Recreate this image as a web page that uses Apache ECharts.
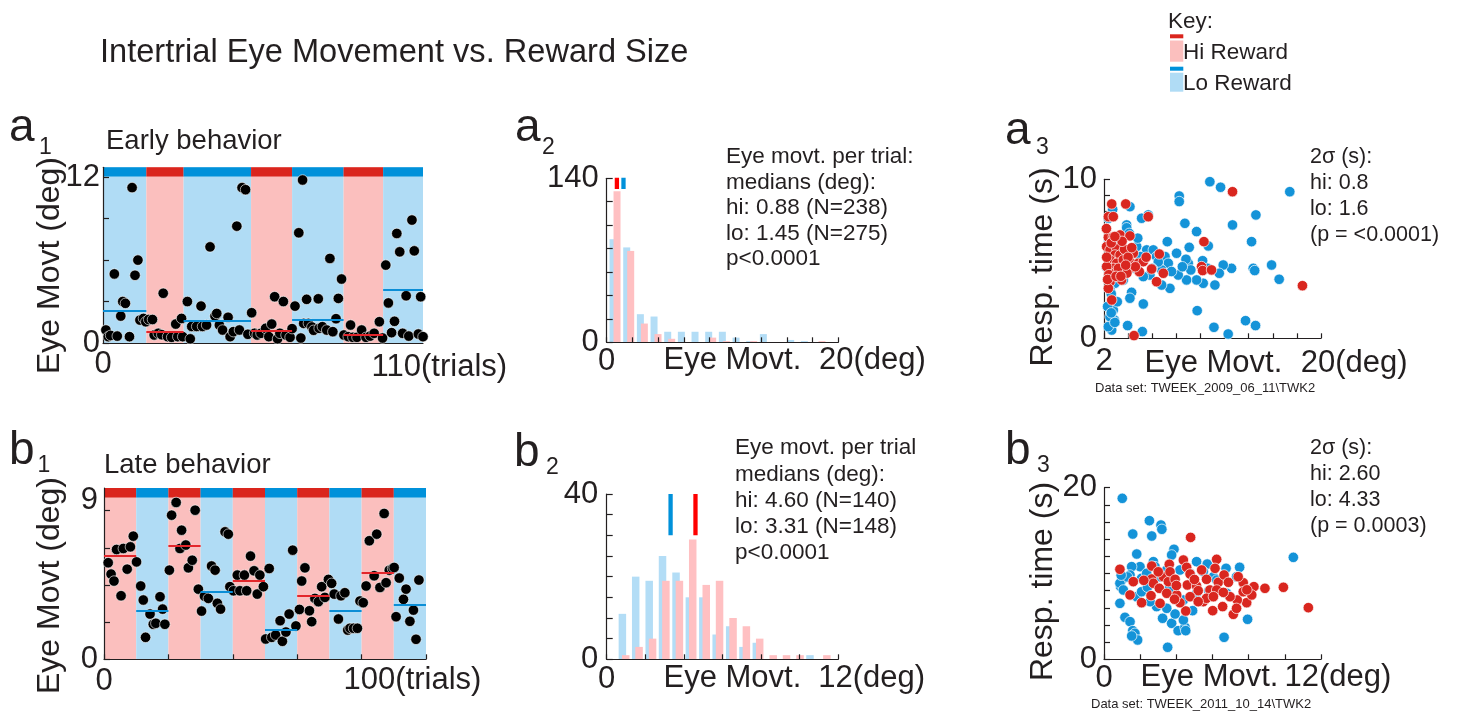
<!DOCTYPE html>
<html>
<head>
<meta charset="utf-8">
<title>Intertrial Eye Movement vs. Reward Size</title>
<script src="https://cdn.jsdelivr.net/npm/echarts@6/dist/echarts.min.js"></script>
<style>
  html, body { margin: 0; padding: 0; background: #ffffff; }
  #chart { width: 1467px; height: 714px; }
</style>
</head>
<body>
<div id="chart"></div>
<script>
// ---------------- data ----------------
// a1: early behaviour, per-trial eye movement (trial, deg)
const a1BlockEdges = [0, 14.9, 27.7, 50.9, 65.0, 82.7, 96.3, 110];
const a1BlockReward = ['lo', 'hi', 'lo', 'hi', 'lo', 'hi', 'lo'];
const a1BlockMedians = [2.34, 0.84, 1.64, 0.89, 1.71, 0.60, 3.88];
const a1Trials = [
  [1.0,0.94],[1.8,0.46],[2.6,0.55],[3.9,5.0],[4.9,0.5],[6.1,1.95],[6.8,3.0],[7.7,2.87],[9.1,0.46],[10.0,11.25],[11.0,4.9],[12.0,6.0],[12.7,1.66],[13.9,1.78],[14.7,1.54],
  [15.7,1.7],[17.0,1.7],[17.6,0.58],[19.0,0.70],[20.2,0.6],[20.7,3.6],[22.2,0.46],[23.6,0.41],[25.0,1.37],[25.7,0.46],[27.0,1.78],[27.4,0.46],
  [29.0,3.0],[30.0,0.3],[30.5,1.2],[32.2,1.2],[33.7,2.67],[34.2,1.2],[35.6,1.3],[36.8,6.96],[38.5,1.95],[39.1,2.14],[40.0,1.3],[41.1,0.94],[43.0,1.86],[43.7,0.46],[44.8,0.82],[46.0,8.46],[46.9,0.94],[47.8,11.25],[49.0,11.1],[49.8,0.63],
  [51.1,2.19],[52.1,0.70],[53.0,0.58],[54.3,0.70],[55.9,1.06],[57.0,0.46],[58.0,1.37],[59.0,3.35],[60.0,0.3],[60.8,0.70],[62.0,3.0],[62.9,0.58],[64.3,0.41],
  [65.0,1.04],[66.0,2.67],[67.3,7.98],[68.0,0.36],[68.6,11.8],[69.0,1.42],[70.0,3.16],[70.6,1.42],[71.8,1.16],[72.4,0.92],[74.0,3.2],[74.3,1.06],[75.4,1.18],[76.9,0.94],[78.0,6.12],[79.0,0.82],[80.1,1.76],[80.9,3.23],[82.0,4.63],
  [82.8,0.58],[84.3,0.46],[85.1,1.3],[85.9,0.41],[87.3,0.41],[88.9,0.94],[90.4,0.41],[91.8,0.5],[93.2,0.7],[95.0,1.54],[96.1,0.36],
  [97.2,5.64],[98.1,2.9],[99.2,0.75],[100.2,1.57],[101.0,7.93],[102.0,6.6],[103.0,0.7],[104.2,3.42],[105.1,0.5],[106.2,8.9],[107.0,6.67],[108.4,0.65],[109.2,3.35],[110.0,0.46]
];

// b1: late behaviour
const b1BlockEdges = [0, 10, 20, 30, 40, 50, 60, 70, 80, 90, 100];
const b1BlockReward = ['hi', 'lo', 'hi', 'lo', 'hi', 'lo', 'hi', 'lo', 'hi', 'lo'];
const b1BlockMedians = [6.27, 2.92, 6.85, 4.07, 4.76, 1.81, 3.83, 2.94, 5.22, 3.33];
const b1Trials = [
  [1.3,5.85],[2.2,5.16],[3.1,4.74],[3.9,6.65],[5.3,3.85],[6.0,6.71],[7.2,5.46],[8.2,6.81],[9.1,7.46],[10.1,5.9],
  [11.4,4.44],[12.2,3.59],[12.9,1.33],[14.3,2.74],[15.3,2.12],[16.1,2.18],[17.4,3.79],[18.2,3.04],[18.9,2.12],[20.3,5.4],
  [21.0,8.73],[22.4,9.5],[23.6,6.71],[24.1,7.82],[25.4,6.92],[26.2,5.54],[27.4,6.0],[28.3,9.03],[29.3,4.25],
  [30.3,2.92],[31.2,3.83],[32.4,3.69],[33.4,5.65],[34.5,5.4],[35.2,3.39],[36.2,3.04],[37.6,7.72],[38.6,7.58],[39.1,4.4],
  [40.2,4.15],[41.4,5.1],[42.2,4.15],[43.6,5.1],[44.3,4.15],[45.5,6.25],[46.6,5.36],[47.6,3.95],[48.4,5.1],[49.5,4.4],
  [50.2,1.23],[51.3,5.5],[52.1,1.33],[53.3,1.47],[54.7,2.34],[55.4,1.09],[56.5,1.65],[57.5,2.74],[58.6,6.61],[59.6,2.02],
  [60.7,3.02],[61.4,4.74],[62.4,5.54],[63.8,2.94],[64.5,2.28],[65.5,3.69],[66.6,3.49],[67.6,4.4],[68.6,3.75],[69.7,4.84],
  [70.7,4.6],[71.5,3.95],[72.8,2.44],[73.6,3.85],[74.8,4.03],[75.7,1.77],[76.4,1.88],[77.5,1.88],[78.7,1.88],[79.5,3.53],
  [80.5,3.43],[81.4,4.44],[82.4,7.18],[83.9,5.06],[84.7,7.58],[85.7,4.35],[87.0,8.83],[87.6,4.64],[88.6,5.4],[89.6,5.5],
  [90.1,5.56],[90.7,2.58],[91.7,4.92],[93.0,3.63],[93.8,4.25],[95.0,2.3],[96.1,2.98],[96.9,1.21],[97.8,4.8]
];

// a2: histogram of eye movement per trial (bin centre in deg, counts)
const a2BinCenters = [0.72, 1.90, 3.08, 4.26, 5.44, 6.62, 7.80, 8.98, 10.16, 11.34, 12.52, 13.70, 14.88, 16.06, 17.24, 18.42];
const a2LoCounts = [88, 81, 24, 22, 9, 9, 9, 9, 9, 4, 1, 7, 0, 2, 1, 0];
const a2HiCounts = [129, 78, 16, 7, 3, 0, 0, 4, 1, 0, 1, 0, 0, 0, 0, 1];
const a2Medians = { hi: 0.88, lo: 1.45 };

// b2
const b2BinCenters = [0.90, 1.59, 2.29, 2.98, 3.68, 4.37, 5.07, 5.76, 6.46, 7.15, 7.84, 8.54, 9.23, 9.93, 10.62, 11.32];
const b2LoCounts = [11, 20, 19, 25, 21, 15, 15, 6, 8, 3, 4, 0, 0, 0, 1, 0];
const b2HiCounts = [1, 3, 5, 19, 19, 29, 18, 19, 10, 8, 5, 1, 1, 1, 0, 1];
const b2Medians = { hi: 4.60, lo: 3.31 };

// a3: response time vs eye movement (deg, s)
const a3Lo = [
  [10.78,9.85],[11.67,9.50],[17.41,9.22],[8.24,8.95],[8.24,8.60],[14.60,7.76],[12.66,7.13],[8.71,7.23],[9.68,6.71],[14.24,6.08],
  [10.65,5.81],[7.25,6.08],[9.07,5.72],[8.02,5.35],[15.90,4.61],[14.38,4.40],[14.50,4.26],[12.58,4.40],[11.89,4.61],[16.53,3.71],
  [11.56,4.09],[11.20,3.35],[10.23,3.46],[10.18,4.88],[9.68,3.67],[8.85,3.67],[8.16,3.98],[8.99,4.72],[8.80,4.97],[7.47,3.14],
  [6.78,3.35],[5.26,2.16],[4.29,2.89],[4.15,2.52],[9.73,1.74],[11.12,0.69],[12.30,0.27],[13.74,1.11],[14.57,0.80],[3.96,0.80],
  [5.18,0.42],[2.77,1.78],[2.86,1.15],[2.64,0.52],[2.36,0.73],[2.50,1.36],[2.77,2.41],[3.88,7.13],[3.88,6.95],[5.67,7.76],
  [5.12,7.55],[4.15,8.28],[2.72,8.11],[2.36,7.55],[4.10,6.60],[4.71,5.77],[5.54,5.56],[6.09,5.56],[6.36,5.14],[7.06,5.14],
  [7.33,4.72],[6.78,4.30],[5.81,3.98],[5.26,3.88],[5.00,5.14],[4.57,4.40],[3.60,3.67],[3.19,4.09],[2.91,3.46],[2.50,3.04],
  [3.30,5.90],[2.40,6.20],[2.20,4.50],[2.60,2.80],[3.10,2.30],[2.30,2.00],[7.60,4.20],[9.20,4.30],[10.60,4.40],[6.50,4.80],
  [8.50,4.50],[2.90,1.00],[2.60,1.60],[4.80,6.30],[6.00,4.40]
];
const a3Hi = [
  [12.66,9.22],[2.64,8.45],[3.80,8.45],[2.36,7.65],[2.77,7.65],[5.67,7.65],[2.36,6.35],[2.77,6.39],[3.33,6.50],[4.15,6.44],
  [10.29,6.08],[6.59,5.30],[2.22,5.77],[2.50,5.56],[3.05,5.66],[2.91,5.24],[3.33,5.24],[4.43,5.35],[2.50,4.93],[3.05,4.72],
  [3.60,4.93],[4.15,4.82],[4.85,4.72],[5.26,4.82],[2.77,4.40],[2.22,4.51],[2.91,4.09],[4.15,4.40],[4.93,4.19],[5.95,4.36],
  [6.92,4.09],[6.36,3.56],[3.46,3.67],[2.50,3.56],[2.36,3.14],[2.64,2.41],[4.49,0.17],[10.09,4.51],[10.18,4.26],[10.92,4.30],
  [18.46,3.31],[2.22,5.10],[2.40,4.00],[3.70,5.60],[4.00,5.10],[3.20,4.40],[3.90,4.10],[4.60,4.50],[2.60,6.00],[3.50,6.10],
  [2.30,3.70],[3.00,3.90],[4.30,5.70],[5.50,5.10],[3.80,4.60],[2.90,6.40],[2.20,6.90],[3.40,3.90]
];

// b3
const b3Lo = [
  [1.01,18.76],[2.51,16.16],[3.15,15.65],[3.20,15.15],[1.59,14.60],[2.64,14.37],[10.47,11.88],[3.87,12.82],[3.74,12.16],[1.81,12.27],
  [5.12,11.38],[5.71,11.10],[6.75,10.60],[7.50,10.72],[7.94,4.66],[6.64,2.56],[3.52,1.40],[0.88,6.52],[1.16,4.89],[1.44,4.39],
  [1.59,3.34],[1.71,3.03],[1.86,2.25],[1.53,2.72],[3.24,4.78],[3.74,4.19],[4.10,3.34],[4.48,3.73],[4.52,3.34],[4.39,4.58],
  [3.93,5.28],[3.47,5.94],[2.91,6.14],[4.90,5.67],[6.78,7.69],[2.73,11.38],[2.82,10.80],[1.99,10.80],[1.53,10.80],[1.44,9.83],
  [0.98,9.24],[0.92,8.47],[0.88,8.86],[1.07,8.08],[1.81,7.30],[2.08,7.88],[2.08,9.44],[2.36,10.02],[3.10,9.63],[3.47,10.41],
  [4.20,10.41],[4.76,10.02],[5.49,10.22],[6.05,9.63],[6.23,9.24],[7.33,9.63],[5.12,7.69],[4.39,6.91],[2.55,6.72],[1.30,9.60],
  [2.40,8.40],[3.60,8.20],[5.80,8.00],[0.95,9.80]
];
const b3Hi = [
  [4.79,14.21],[6.23,11.65],[0.88,10.49],[11.30,6.02],[9.92,8.39],[8.90,8.27],[8.29,8.47],[7.70,8.93],[7.42,9.63],[7.89,6.60],
  [8.17,7.50],[7.15,5.24],[7.37,6.91],[6.56,6.14],[6.01,5.67],[4.52,5.63],[4.20,6.60],[2.08,6.60],[1.44,7.50],[1.62,9.05],
  [2.60,7.42],[2.64,10.87],[2.64,9.36],[2.73,8.86],[3.06,8.27],[3.28,9.63],[3.61,11.07],[3.56,9.05],[3.65,10.20],[3.93,9.32],
  [4.39,11.57],[4.57,10.72],[4.61,8.66],[4.76,9.94],[5.12,8.54],[5.21,8.00],[5.40,10.41],[5.67,9.32],[5.86,8.08],[6.14,10.60],
  [6.32,8.97],[6.23,8.08],[6.64,9.83],[6.88,8.97],[6.97,7.30],[7.33,5.94],[4.76,7.30],[4.02,7.50],[3.47,7.69],[3.10,6.52],
  [5.49,6.72],[5.67,7.11],[5.21,6.72],[6.05,7.30],[7.70,7.88],[2.20,9.20],[3.00,10.20],[4.00,8.60],[5.00,9.30],[6.60,7.80],
  [7.90,8.10],[3.90,7.00]
];

// axis ticks and tick labels
const a1YTicks = [0, 3, 6, 9, 12];
const a1YLabels = [0, 12];
const b1XTicks = [0, 20, 40, 60, 80, 100];
const b1YTicks = [0, 2.25, 4.5, 6.75, 9];
const b1YLabels = [0, 9];
const a2XTicks = [0, 2.222, 4.444, 6.667, 8.889, 11.111, 13.333, 15.556, 17.778, 20];
const a2YTicks = [0, 20, 40, 60, 80, 100, 120, 140];
const a2YLabels = [0, 140];
const b2XTicks = [0, 2, 4, 6, 8, 10, 12];
const b2YTicks = [0, 5, 10, 15, 20, 25, 30, 35, 40];
const b2YLabels = [0, 40];
const a3XTicks = [2, 4, 6, 8, 10, 12, 14, 16, 18, 20];
const a3YTicks = [0, 1, 2, 3, 4, 5, 6, 7, 8, 9, 10];
const a3YLabels = [0, 10];
const b3XTicks = [0, 2, 4, 6, 8, 10, 12];
const b3YTicks = [0, 2, 4, 6, 8, 10, 12, 14, 16, 18, 20];
const b3YLabels = [0, 20];

// ---------------- styling ----------------
const FONT = "'Liberation Sans', Arial, Helvetica, sans-serif";
const INK = '#231F20';
const BAND = { lo: '#B0DCF5', hi: '#FBBFBE' };
const STRIP = { lo: '#0091DA', hi: '#DA251D' };
const MED = { lo: '#0B8ED6', hi: '#E3262B' };
const BAR = { lo: '#B3DDF6', hi: '#FFC0C2' };
const MARK = { lo: '#0091DA', hi: '#FF0000' };
const DOT = { lo: '#1493D8', hi: '#D9261F' };

const chart = echarts.init(document.getElementById('chart'), null, { renderer: 'canvas' });

function xAxisCfg(grid, min, max, ticks, labels, margin, z) {
  return {
    type: 'value', gridIndex: grid, min: min, max: max, z: z,
    axisLine: { show: true, onZero: false, lineStyle: { color: INK, width: 1.2 } },
    axisTick: { show: ticks.length > 0, inside: true, length: 5, customValues: ticks, lineStyle: { color: INK, width: 1.2 } },
    axisLabel: { show: true, customValues: labels, margin: margin, fontSize: 31, fontFamily: FONT, color: INK },
    splitLine: { show: false }
  };
}
function yAxisCfg(grid, min, max, ticks, labels, margin, z, maxLabelUp) {
  const cfg = {
    type: 'value', gridIndex: grid, min: min, max: max, z: z,
    axisLine: { show: true, onZero: false, lineStyle: { color: INK, width: 1.2 } },
    axisTick: { show: true, inside: true, length: 6, customValues: ticks, lineStyle: { color: INK, width: 1.2 } },
    axisLabel: { show: true, customValues: labels, margin: margin, fontSize: 31, fontFamily: FONT, color: INK },
    splitLine: { show: false }
  };
  if (maxLabelUp) {
    // top tick label sits a little above its tick
    cfg.axisLabel.lineHeight = maxLabelUp;
    cfg.axisLabel.verticalAlignMaxLabel = 'bottom';
  }
  return cfg;
}

// reward blocks: light background band plus a darker strip at the top
function blockAreas(edges, kinds, top, stripFrom) {
  const out = [];
  kinds.forEach((k, i) => out.push([
    { xAxis: edges[i], yAxis: 0, itemStyle: { color: BAND[k], opacity: 1 } },
    { xAxis: edges[i + 1], yAxis: top }
  ]));
  kinds.forEach((k, i) => out.push([
    { xAxis: edges[i], yAxis: stripFrom, itemStyle: { color: STRIP[k], opacity: 1 } },
    { xAxis: edges[i + 1], yAxis: top }
  ]));
  return out;
}
function medianLines(edges, kinds, meds) {
  return kinds.map((k, i) => [
    { coord: [edges[i], meds[i]], lineStyle: { color: MED[k], width: 2, type: 'solid', opacity: 1 } },
    { coord: [edges[i + 1], meds[i]] }
  ]);
}
function timelineSeries(ax, edges, kinds, meds, trials, top, stripFrom) {
  return [
    { type: 'scatter', xAxisIndex: ax, yAxisIndex: ax, data: [], z: 0, silent: true,
      markArea: { silent: true, data: blockAreas(edges, kinds, top, stripFrom) } },
    { type: 'scatter', xAxisIndex: ax, yAxisIndex: ax, data: trials, z: 2, silent: true,
      symbol: 'circle', symbolSize: 10.5,
      itemStyle: { color: '#000000', borderColor: '#ffffff', borderWidth: 0.6, opacity: 1 } },
    { type: 'scatter', xAxisIndex: ax, yAxisIndex: ax, data: [], z: 3, silent: true,
      markLine: { silent: true, symbol: ['none', 'none'], label: { show: false },
        lineStyle: { width: 2, type: 'solid' }, data: medianLines(edges, kinds, meds) } }
  ];
}
function histSeries(ax, centers, lo, hi, meds, top, markLen, barW, gap) {
  const pairs = (vals) => centers.map((c, i) => [c, vals[i]]);
  const marker = (k) => ({
    type: 'line', xAxisIndex: ax, yAxisIndex: ax, z: 4, silent: true, symbol: 'none',
    lineStyle: { color: MARK[k], width: 4.3, cap: 'butt' },
    data: [[meds[k], top - markLen], [meds[k], top]]
  });
  return [
    { type: 'bar', xAxisIndex: ax, yAxisIndex: ax, data: pairs(lo), barWidth: barW, barGap: gap, z: 2, silent: true,
      itemStyle: { color: BAR.lo } },
    { type: 'bar', xAxisIndex: ax, yAxisIndex: ax, data: pairs(hi), barWidth: barW, barGap: gap, z: 2, silent: true,
      itemStyle: { color: BAR.hi } },
    marker('hi'), marker('lo')
  ];
}
function scatterSeries(ax, lo, hi) {
  const s = (data, k, z) => ({
    type: 'scatter', xAxisIndex: ax, yAxisIndex: ax, data: data, z: z, silent: true,
    symbol: 'circle', symbolSize: 10.5,
    itemStyle: { color: DOT[k], borderColor: '#ffffff', borderWidth: 0.7, opacity: 1 }
  });
  return [s(lo, 'lo', 2), s(hi, 'hi', 3)];
}

// text placed by its left edge and alphabetic baseline
function T(text, x, base, size, extra) {
  const el = {
    type: 'text', x: x, y: base - 0.3 * size, silent: true, z: 10,
    style: { text: text, fontSize: size, fontFamily: FONT, fill: INK,
      align: 'left', textAlign: 'left', verticalAlign: 'middle', textVerticalAlign: 'middle' }
  };
  if (extra) {
    if (extra.align) { el.style.align = extra.align; el.style.textAlign = extra.align; }
    if (extra.rotation !== undefined) { el.rotation = extra.rotation; }
  }
  return el;
}
// vertical axis title, centred on cy, baseline at bx
function VT(text, bx, cy, size) {
  const el = T(text, 0, 0, size, { align: 'center', rotation: Math.PI / 2 });
  el.x = bx - 0.3 * size;
  el.y = cy;
  return el;
}
function multiline(lines, x, base0, step, size) {
  return lines.map((s, i) => T(s, x, base0 + i * step, size));
}

const graphics = [
  T('Intertrial Eye Movement vs. Reward Size', 100, 62.7, 32.6),
  // key
  T('Key:', 1168, 28.3, 22.5),
  { type: 'rect', silent: true, shape: { x: 1170, y: 34.3, width: 13.3, height: 4 }, style: { fill: STRIP.hi } },
  { type: 'rect', silent: true, shape: { x: 1170, y: 40.5, width: 13.3, height: 21.2 }, style: { fill: BAND.hi } },
  T('Hi Reward', 1183, 59.3, 22.5),
  { type: 'rect', silent: true, shape: { x: 1170, y: 66.7, width: 13.3, height: 4 }, style: { fill: STRIP.lo } },
  { type: 'rect', silent: true, shape: { x: 1170, y: 72.7, width: 13.3, height: 19 }, style: { fill: BAND.lo } },
  T('Lo Reward', 1183, 90.7, 22.5),
  // panel letters
  T('a', 9, 141.7, 46), T('1', 39, 154.5, 23),
  T('a', 515, 141.7, 46), T('2', 542, 155, 23),
  T('a', 1005, 145, 46), T('3', 1036, 155, 23),
  T('b', 9, 465, 46), T('1', 37.5, 473, 23),
  T('b', 514, 466.7, 46), T('2', 546, 475, 23),
  T('b', 1005, 465, 46), T('3', 1037, 473, 23),
  // panel titles
  T('Early behavior', 106, 150, 27.5),
  T('Late behavior', 104, 474, 27.5),
  // axis titles
  VT('Eye Movt (deg)', 60, 265.5, 32),
  VT('Eye Movt (deg)', 60, 585.5, 32),
  VT('Resp. time (s)', 1053, 267, 32),
  VT('Resp. time (s)', 1053, 581.5, 32),
  T('110(trials)', 371.6, 377, 31),
  T('100(trials)', 343.6, 690, 31),
  T('Eye Movt.', 663.5, 370, 31), T('20(deg)', 819, 370, 31),
  T('Eye Movt.', 663.5, 688, 31), T('12(deg)', 818.3, 688, 31),
  T('Eye Movt.', 1144.5, 373, 31), T('20(deg)', 1300.7, 373, 31),
  T('Eye Movt.', 1140.6, 686.7, 31), T('12(deg)', 1284.5, 686.7, 31),
  // data set captions
  T('Data set: TWEEK_2009_06_11\\TWK2', 1095, 392.7, 13),
  T('Data set: TWEEK_2011_10_14\\TWK2', 1091, 708.3, 13)
].concat(
  multiline(['Eye movt. per trial:', 'medians (deg):', 'hi: 0.88 (N=238)', 'lo: 1.45 (N=275)', 'p<0.0001'], 726, 163.5, 25.6, 22.5),
  multiline(['Eye movt. per trial', 'medians (deg):', 'hi: 4.60 (N=140)', 'lo: 3.31 (N=148)', 'p<0.0001'], 735, 455, 26.2, 22.5),
  multiline(['2\u03c3 (s):', 'hi: 0.8', 'lo: 1.6', '(p = <0.0001)'], 1310, 163.3, 26, 21.5),
  multiline(['2\u03c3 (s):', 'hi: 2.60', 'lo: 4.33', '(p = 0.0003)'], 1310, 455, 26, 21.5)
);

const A1_TOP = 12.72, A1_STRIP = 12.05;
const B1_TOP = 10.375, B1_STRIP = 9.8;

const option = {
  backgroundColor: '#ffffff',
  animation: false,
  textStyle: { fontFamily: FONT },
  grid: [
    { left: 103, top: 167.3, width: 320, height: 175.7, outerBoundsMode: 'none', containLabel: false },   // a1
    { left: 606.7, top: 178.3, width: 231.6, height: 164, outerBoundsMode: 'none', containLabel: false }, // a2
    { left: 1104, top: 179.3, width: 217, height: 159, outerBoundsMode: 'none', containLabel: false },    // a3
    { left: 104, top: 488, width: 322, height: 171.3, outerBoundsMode: 'none', containLabel: false },     // b1
    { left: 606.7, top: 494, width: 231.6, height: 165.3, outerBoundsMode: 'none', containLabel: false }, // b2
    { left: 1104, top: 487.7, width: 217, height: 171.6, outerBoundsMode: 'none', containLabel: false }   // b3
  ],
  xAxis: [
    xAxisCfg(0, 0, 110, [], [0], 6, 1),
    xAxisCfg(1, 0, 20, a2XTicks, [0], 3.5, 5),
    xAxisCfg(2, 2, 20, a3XTicks, [2], 7.5, 1),
    xAxisCfg(3, 0, 100, b1XTicks, [0], 6.5, 1),
    xAxisCfg(4, 0, 12, b2XTicks, [0], 5, 5),
    xAxisCfg(5, 0, 12, b3XTicks, [0], 3.3, 1)
  ],
  yAxis: [
    yAxisCfg(0, 0, A1_TOP, a1YTicks, a1YLabels, 3, 1),
    yAxisCfg(1, 0, 140, a2YTicks, a2YLabels, 8, 5),
    yAxisCfg(2, 0, 10, a3YTicks, a3YLabels, 7, 1),
    yAxisCfg(3, 0, B1_TOP, b1YTicks, b1YLabels, 6, 1, 20),
    yAxisCfg(4, 0, 40, b2YTicks, b2YLabels, 8.5, 5),
    yAxisCfg(5, 0, 20, b3YTicks, b3YLabels, 7, 1)
  ],
  series: [].concat(
    timelineSeries(0, a1BlockEdges, a1BlockReward, a1BlockMedians, a1Trials, A1_TOP, A1_STRIP),
    histSeries(1, a2BinCenters, a2LoCounts, a2HiCounts, a2Medians, 140.4, 9.6, 7, '-43%'),
    scatterSeries(2, a3Lo, a3Hi),
    timelineSeries(3, b1BlockEdges, b1BlockReward, b1BlockMedians, b1Trials, B1_TOP, B1_STRIP),
    histSeries(4, b2BinCenters, b2LoCounts, b2HiCounts, b2Medians, 40, 10, 7.5, '-55%'),
    scatterSeries(5, b3Lo, b3Hi)
  ),
  graphic: { elements: graphics }
};

chart.setOption(option);
</script>
</body>
</html>
